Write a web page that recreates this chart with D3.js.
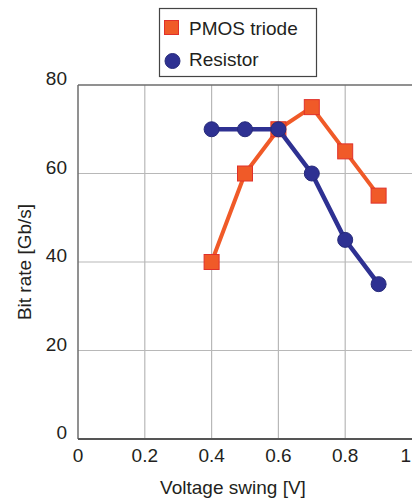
<!DOCTYPE html>
<html>
<head>
<meta charset="utf-8">
<script src="https://cdn.jsdelivr.net/npm/d3@7"></script>
<style>
  body { margin: 0; background: #fff; }
  svg text { font-family: "Liberation Sans", Arial, sans-serif; fill: #231f20; }
</style>
</head>
<body>
<svg id="chart" width="412" height="501"></svg>
<script>
// Data
const voltage = [0.4, 0.5, 0.6, 0.7, 0.8, 0.9]
const pmosRate = [40, 60, 70, 75, 65, 55]
const resistorRate = [70, 70, 70, 60, 45, 35]
const xTicks = [0, 0.2, 0.4, 0.6, 0.8, 1]
const yTicks = [0, 20, 40, 60, 80]

const svg = d3.select("#chart")
const margin = { top: 85, left: 78, bottom: 439 }
const fontSize = 19

const xScale = d3.scaleLinear().domain([0, 1]).range([margin.left, 412])
const yScale = d3.scaleLinear().domain([0, 80]).range([margin.bottom, margin.top])

// grid
svg.append("g")
  .selectAll("line")
  .data(xTicks.filter(d => d > 0 && d < 1))
  .join("line")
  .attr("x1", d => xScale(d)).attr("x2", d => xScale(d))
  .attr("y1", yScale(0)).attr("y2", yScale(80))
  .attr("stroke", "#b8b8b8").attr("stroke-width", 1.2)

svg.append("g")
  .selectAll("line")
  .data(yTicks.filter(d => d > 0 && d < 80))
  .join("line")
  .attr("x1", xScale(0)).attr("x2", xScale(1))
  .attr("y1", d => yScale(d)).attr("y2", d => yScale(d))
  .attr("stroke", "#b8b8b8").attr("stroke-width", 1.2)

// frame: left, bottom, top
svg.append("line")
  .attr("x1", xScale(0)).attr("x2", xScale(0))
  .attr("y1", yScale(0)).attr("y2", yScale(80))
  .attr("stroke", "#6d6d6d").attr("stroke-width", 1.5)
svg.append("line")
  .attr("x1", xScale(0)).attr("x2", xScale(1))
  .attr("y1", yScale(0)).attr("y2", yScale(0))
  .attr("stroke", "#555").attr("stroke-width", 1.8)
svg.append("line")
  .attr("x1", xScale(0)).attr("x2", xScale(1))
  .attr("y1", yScale(80)).attr("y2", yScale(80))
  .attr("stroke", "#6d6d6d").attr("stroke-width", 1.5)

// tick labels (the last one sits at the window edge, so anchor it to the end)
svg.append("g")
  .selectAll("text")
  .data(xTicks)
  .join("text")
  .attr("x", d => d === 1 ? xScale(d) - 1 : xScale(d))
  .attr("y", 462)
  .attr("text-anchor", d => d === 1 ? "end" : "middle")
  .attr("font-size", fontSize)
  .text(d => d)

svg.append("g")
  .selectAll("text")
  .data(yTicks)
  .join("text")
  .attr("x", 67)
  .attr("y", d => yScale(d))
  .attr("text-anchor", "end")
  .attr("font-size", fontSize)
  .text(d => d)

// axis titles
svg.append("text")
  .attr("x", 233).attr("y", 494)
  .attr("text-anchor", "middle")
  .attr("font-size", fontSize)
  .text("Voltage swing [V]")

svg.append("text")
  .attr("transform", "translate(31,262) rotate(-90)")
  .attr("text-anchor", "middle")
  .attr("font-size", fontSize)
  .text("Bit rate [Gb/s]")

// series
const orange = "#f05a28", orangeEdge = "#e0302a"
const navy = "#2e3192", navyEdge = "#262a7a"

const line = d3.line()
  .x((d, i) => xScale(voltage[i]))
  .y(d => yScale(d))

svg.append("path")
  .datum(pmosRate)
  .attr("d", line)
  .attr("fill", "none")
  .attr("stroke", orange)
  .attr("stroke-width", 4)

const sq = 15
svg.append("g")
  .selectAll("rect")
  .data(pmosRate)
  .join("rect")
  .attr("x", (d, i) => xScale(voltage[i]) - sq / 2)
  .attr("y", d => yScale(d) - sq / 2)
  .attr("width", sq).attr("height", sq)
  .attr("fill", orange)
  .attr("stroke", orangeEdge).attr("stroke-width", 1)

svg.append("path")
  .datum(resistorRate)
  .attr("d", line)
  .attr("fill", "none")
  .attr("stroke", navy)
  .attr("stroke-width", 4.5)

svg.append("g")
  .selectAll("circle")
  .data(resistorRate)
  .join("circle")
  .attr("cx", (d, i) => xScale(voltage[i]))
  .attr("cy", d => yScale(d))
  .attr("r", 7.5)
  .attr("fill", navy)
  .attr("stroke", navyEdge).attr("stroke-width", 1)

// legend
const legend = svg.append("g")
legend.append("rect")
  .attr("x", 159.5).attr("y", 8.5)
  .attr("width", 157).attr("height", 68)
  .attr("fill", "#fff")
  .attr("stroke", "#444").attr("stroke-width", 1.2)
legend.append("rect")
  .attr("x", 164.5).attr("y", 20.5)
  .attr("width", 14).attr("height", 14)
  .attr("fill", orange).attr("stroke", orangeEdge)
legend.append("circle")
  .attr("cx", 172.5).attr("cy", 61)
  .attr("r", 7.5)
  .attr("fill", navy).attr("stroke", navyEdge)
legend.append("text")
  .attr("x", 189).attr("y", 35)
  .attr("font-size", fontSize)
  .text("PMOS triode")
legend.append("text")
  .attr("x", 189).attr("y", 66)
  .attr("font-size", fontSize)
  .text("Resistor")
</script>
</body>
</html>
